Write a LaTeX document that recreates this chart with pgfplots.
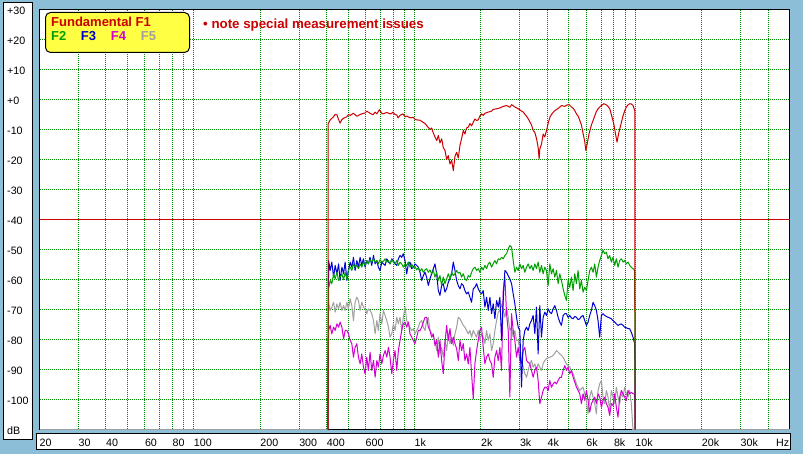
\documentclass[border=0pt]{standalone}
\usepackage{fontspec}
\setmainfont{Liberation Sans}
\usepackage{pgfplots}
\usepackage{pgfplotstable}
\pgfplotsset{compat=1.18}
\definecolor{bgblue}{RGB}{140,190,215}
\definecolor{gridgreen}{RGB}{0,140,0}
\definecolor{cF1}{RGB}{204,0,0}
\definecolor{cF2}{RGB}{0,160,0}
\definecolor{cF3}{RGB}{0,0,210}
\definecolor{cF4}{RGB}{210,0,210}
\definecolor{cF5}{RGB}{160,160,160}
\definecolor{legyellow}{RGB}{255,255,68}

\pgfplotstableread{
f F1
406 -110
406 -8.1
415 -6.8
428 -5.9
437 -5.0
445 -5.1
452 -6.5
460 -7.9
468 -6.8
475 -6.3
493 -5.8
502 -5.0
511 -5.3
529 -4.6
548 -5.6
567 -5.0
577 -4.8
597 -4.5
608 -3.9
629 -4.6
649 -5.1
663 -4.2
675 -4.8
693 -3.4
711 -4.6
721 -4.8
749 -4.3
775 -4.8
789 -4.6
799 -4.2
816 -5.0
831 -5.2
842 -6.1
860 -5.3
875 -5.0
887 -4.8
906 -5.8
922 -5.5
954 -6.1
988 -6.0
1005 -6.6
1023 -6.8
1059 -6.9
1093 -7.6
1116 -8.0
1151 -9.2
1175 -10.0
1196 -9.5
1213 -10.9
1238 -12.5
1261 -13.7
1282 -12.0
1304 -14.5
1328 -13.1
1350 -16.0
1375 -17.0
1398 -20.0
1422 -18.7
1448 -21.5
1474 -20.3
1499 -23.7
1525 -19.0
1552 -17.6
1579 -19.5
1607 -15.3
1635 -13.0
1664 -10.3
1692 -11.5
1722 -9.5
1752 -9.2
1783 -8.0
1814 -8.8
1846 -7.6
1878 -6.5
1911 -7.0
1944 -6.8
1979 -5.5
2015 -4.8
2048 -5.3
2084 -4.6
2158 -4.2
2234 -3.9
2273 -3.3
2355 -3.1
2437 -2.8
2524 -2.3
2612 -2.0
2704 -2.6
2754 -1.7
2849 -2.5
2950 -3.1
3001 -3.5
3108 -4.2
3217 -5.6
3274 -6.4
3389 -8.5
3450 -10.3
3509 -11.0
3573 -13.1
3632 -16.0
3670 -19.8
3696 -16.5
3764 -14.8
3827 -11.5
3894 -12.5
3966 -10.3
4031 -8.0
4106 -5.9
4174 -5.0
4247 -4.3
4324 -3.7
4474 -3.0
4638 -2.0
4795 -2.3
4879 -1.9
5018 -1.7
5140 -2.5
5230 -2.9
5327 -3.7
5415 -4.8
5510 -5.5
5610 -7.0
5704 -8.5
5808 -11.4
5906 -14.0
5974 -17.0
6050 -15.0
6180 -11.4
6330 -8.5
6444 -7.0
6554 -5.5
6669 -4.0
6790 -3.1
6904 -2.5
7025 -2.0
7206 -1.4
7401 -1.8
7530 -2.3
7668 -3.1
7796 -5.0
7994 -8.1
8143 -11.5
8272 -14.2
8430 -11.0
8662 -7.6
8803 -5.5
8966 -3.7
9114 -2.5
9274 -1.8
9446 -1.4
9601 -1.5
9776 -2.0
9952 -3.7
9990 -110
}\fundamental

\pgfplotstableread{
f F2 F3 F4 F5
405 -110 -110 -110 -110
408 -63.1 -53.7 -77.0 -67.6
415 -60.3 -57.0 -75.3 -70.3
422 -61.4 -54.2 -78.1 -69.2
430 -58.1 -59.2 -75.9 -67.6
437 -59.8 -55.3 -77.0 -70.9
445 -57.6 -58.1 -74.8 -68.1
453 -60.3 -54.8 -75.9 -69.8
460 -59.2 -60.3 -74.2 -67.6
469 -58.1 -55.9 -75.9 -70.3
477 -60.1 -58.1 -79.8 -68.7
485 -57.6 -54.2 -77.0 -70.3
494 -59.8 -60.3 -77.0 -67.6
502 -56.8 -57.0 -78.1 -69.8
511 -55.9 -54.2 -80.3 -66.4
520 -57.0 -55.9 -81.4 -68.7
529 -54.8 -52.6 -85.9 -73.7
538 -55.9 -57.0 -82.6 -67.6
548 -55.3 -53.7 -81.4 -65.9
557 -56.4 -55.9 -85.9 -67.0
567 -54.8 -52.6 -88.1 -70.3
577 -55.9 -55.3 -84.8 -67.6
587 -54.2 -53.1 -89.2 -69.2
597 -55.3 -55.9 -91.4 -69.8
608 -53.7 -53.7 -85.9 -71.4
618 -54.8 -54.8 -90.3 -69.8
629 -53.4 -52.6 -84.2 -70.3
640 -54.2 -55.3 -90.3 -71.4
652 -53.1 -52.0 -87.0 -73.7
663 -54.2 -54.8 -92.6 -78.1
675 -53.7 -53.7 -87.0 -73.7
686 -54.8 -55.9 -89.2 -77.0
698 -53.4 -57.0 -84.8 -71.4
711 -54.2 -54.2 -88.1 -74.8
723 -53.9 -54.8 -85.3 -70.3
736 -53.1 -55.3 -83.7 -72.0
749 -54.2 -53.1 -85.9 -73.7
762 -53.7 -54.2 -82.6 -75.9
775 -54.8 -54.8 -85.9 -79.2
789 -53.4 -53.1 -91.4 -78.1
802 -54.2 -53.7 -87.0 -74.8
816 -54.8 -54.8 -83.7 -77.0
831 -53.7 -55.3 -90.3 -72.6
845 -55.3 -53.1 -83.7 -74.8
860 -54.2 -52.0 -80.3 -72.6
875 -54.8 -52.6 -77.0 -77.0
890 -55.9 -51.4 -74.8 -72.6
906 -54.8 -53.7 -74.2 -69.2
922 -55.3 -58.1 -75.9 -73.7
938 -54.2 -54.8 -74.2 -74.8
954 -55.9 -54.2 -78.1 -75.9
971 -54.8 -56.4 -79.2 -77.0
988 -56.1 -55.9 -80.3 -76.4
1005 -55.7 -54.8 -81.4 -78.1
1023 -56.8 -55.3 -79.2 -77.0
1041 -56.1 -55.9 -77.0 -75.9
1059 -57.2 -57.6 -77.0 -74.2
1078 -56.4 -60.3 -75.9 -73.7
1097 -57.6 -58.7 -74.2 -75.9
1116 -56.8 -57.6 -72.6 -77.0
1135 -56.4 -59.2 -72.6 -73.7
1155 -57.6 -62.0 -75.9 -72.6
1175 -56.8 -59.8 -77.0 -77.0
1196 -58.1 -58.1 -79.2 -78.1
1217 -57.0 -56.4 -78.1 -79.2
1238 -59.2 -54.8 -82.0 -80.3
1260 -57.6 -58.1 -80.3 -83.7
1282 -60.3 -63.7 -85.9 -79.2
1304 -58.7 -65.3 -80.3 -84.8
1327 -62.0 -62.0 -87.0 -82.6
1350 -59.2 -61.4 -91.4 -85.9
1374 -61.4 -64.2 -81.4 -80.3
1398 -59.8 -63.1 -75.3 -83.7
1423 -58.1 -60.9 -80.3 -78.1
1448 -59.8 -59.8 -76.4 -81.4
1473 -57.6 -58.1 -81.4 -79.2
1499 -58.7 -54.2 -79.2 -82.0
1525 -58.1 -57.0 -81.4 -78.1
1552 -57.0 -60.3 -83.1 -75.9
1579 -57.9 -62.0 -87.0 -72.6
1607 -57.6 -63.1 -80.3 -73.1
1635 -59.2 -61.4 -83.7 -74.2
1663 -58.1 -62.0 -81.4 -75.3
1692 -59.8 -63.7 -87.0 -75.9
1722 -60.3 -64.8 -84.8 -77.0
1752 -58.7 -64.2 -88.1 -78.1
1783 -59.2 -65.9 -82.6 -77.0
1814 -57.6 -67.6 -91.4 -79.2
1846 -56.4 -63.1 -99.8 -77.0
1878 -55.9 -62.6 -88.1 -78.1
1911 -57.0 -61.4 -83.7 -79.2
1944 -56.4 -63.1 -80.3 -77.0
1979 -57.6 -64.2 -77.0 -80.3
2013 -55.9 -64.8 -75.9 -78.1
2048 -56.8 -63.7 -82.6 -79.2
2084 -55.3 -69.2 -88.1 -81.4
2121 -56.4 -65.9 -85.9 -77.0
2158 -54.8 -70.3 -84.8 -80.3
2196 -54.2 -65.9 -87.0 -78.1
2234 -55.9 -71.4 -88.1 -83.7
2273 -54.8 -68.1 -92.6 -81.4
2313 -53.7 -73.1 -85.9 -77.0
2354 -54.8 -67.0 -83.7 -73.7
2395 -53.1 -69.2 -87.0 -70.9
2437 -53.4 -65.9 -82.6 -70.3
2479 -52.6 -80.3 -90.3 -68.1
2523 -53.1 -67.0 -63.7 -70.3
2567 -52.0 -57.0 -59.2 -72.6
2612 -51.4 -57.6 -71.4 -69.2
2658 -49.8 -58.7 -77.0 -72.6
2704 -48.7 -59.8 -99.2 -77.0
2752 -49.2 -61.4 -71.4 -75.9
2800 -53.7 -64.8 -77.0 -79.2
2849 -57.6 -68.1 -80.3 -77.0
2899 -55.9 -72.6 -85.9 -80.3
2949 -57.0 -75.9 -82.6 -80.3
3001 -54.8 -77.0 -87.0 -83.7
3054 -56.4 -95.9 -88.1 -87.0
3107 -55.3 -80.3 -83.7 -89.2
3162 -57.6 -77.0 -82.6 -91.4
3217 -55.9 -75.9 -87.0 -92.6
3273 -54.8 -77.0 -87.6 -90.3
3331 -56.4 -74.8 -88.1 -88.1
3389 -55.3 -73.7 -90.3 -87.0
3448 -57.0 -72.0 -92.6 -89.2
3509 -54.8 -78.1 -90.3 -88.1
3570 -56.4 -69.2 -89.2 -90.3
3632 -54.2 -84.8 -93.7 -88.1
3696 -57.6 -68.7 -101.4 -89.2
3761 -55.3 -79.2 -99.2 -90.3
3827 -58.1 -72.6 -97.0 -88.1
3894 -55.9 -70.9 -95.9 -87.0
3962 -57.0 -72.0 -95.9 -86.4
4031 -62.0 -69.8 -97.0 -86.1
4102 -54.8 -70.9 -93.7 -85.9
4174 -58.1 -71.4 -95.9 -85.7
4247 -56.4 -69.8 -94.8 -85.3
4321 -59.2 -68.7 -94.2 -84.6
4397 -57.0 -70.3 -94.8 -83.7
4474 -61.4 -72.6 -93.7 -84.2
4552 -58.1 -74.2 -92.6 -84.8
4632 -60.3 -75.3 -92.6 -85.3
4713 -63.1 -72.0 -90.3 -85.9
4795 -65.3 -71.4 -88.7 -87.0
4879 -67.0 -71.4 -90.3 -88.1
4965 -60.3 -72.6 -89.2 -88.7
5052 -62.6 -72.0 -91.4 -89.2
5140 -59.2 -72.8 -90.3 -90.3
5230 -63.7 -73.1 -92.6 -91.4
5322 -58.1 -72.3 -94.2 -93.1
5415 -61.4 -72.6 -95.9 -94.8
5510 -57.0 -73.4 -97.0 -95.9
5606 -63.1 -73.1 -98.1 -97.0
5704 -60.3 -72.3 -101.4 -96.4
5804 -64.2 -72.0 -98.1 -95.9
5906 -62.6 -73.7 -100.3 -98.1
6009 -63.7 -75.3 -97.0 -100.3
6114 -60.3 -74.2 -100.3 -104.8
6221 -57.0 -72.0 -104.2 -99.2
6330 -55.9 -70.3 -101.4 -97.0
6441 -57.6 -67.6 -100.3 -99.2
6554 -54.8 -68.7 -99.2 -101.4
6669 -59.2 -70.3 -101.4 -104.8
6785 -55.9 -73.7 -98.1 -97.0
6904 -53.7 -79.2 -99.2 -94.8
7025 -52.0 -72.0 -102.6 -93.7
7148 -50.3 -71.4 -100.3 -99.2
7273 -51.4 -72.0 -99.2 -101.4
7401 -50.9 -72.3 -101.4 -97.0
7530 -53.1 -72.6 -102.6 -99.2
7662 -52.0 -72.8 -105.3 -103.7
7796 -54.2 -73.1 -101.4 -97.0
7933 -52.6 -73.7 -102.0 -99.2
8072 -55.3 -74.2 -98.1 -101.4
8213 -53.1 -74.8 -102.6 -95.9
8357 -55.9 -75.3 -105.9 -99.2
8503 -53.7 -75.0 -99.2 -101.4
8652 -53.1 -74.8 -97.0 -98.1
8803 -54.2 -75.3 -98.1 -99.2
8957 -53.7 -75.9 -99.2 -95.9
9114 -54.8 -76.1 -100.3 -98.1
9274 -54.2 -76.4 -97.0 -99.2
9436 -55.3 -76.4 -98.1 -97.0
9601 -55.9 -77.6 -97.6 -101.4
9770 -56.4 -79.2 -98.1 -110
9941 -57.0 -81.4 -98.1 -110
9990 -110 -110 -110 -110
}\harmonics

\begin{document}
\begin{tikzpicture}[x=1pt,y=1pt,
  ylab/.style={anchor=base west, inner sep=0pt, font=\fontsize{10.7}{12}\selectfont, xshift=-32.5pt, yshift=-4.8pt},
  xlab/.style={anchor=base west, inner sep=0pt, font=\fontsize{10.7}{12}\selectfont, yshift=-16.8pt}]
\path[use as bounding box] (0,0) rectangle (803,454);
\fill[bgblue] (0,0) rectangle (803,454);
\draw[black, fill=white, line width=1pt] (3.5,14.5) rectangle (32.5,451.5);
\draw[black, fill=white, line width=1pt] (36.5,4.5) rectangle (790.5,20.5);
\begin{axis}[
  at={(39.5pt,24.5pt)}, anchor=south west,
  scale only axis, width=750pt, height=420pt,
  xmode=log, xmin=20, xmax=50000, ymin=-110, ymax=30,
  axis background/.style={fill=white},
  axis line style={black, line width=1pt},
  xtick={20,30,40,50,60,70,80,90,100,200,300,400,500,600,700,800,900,1000,2000,3000,4000,5000,6000,7000,8000,9000,10000,20000,30000,40000},
  ytick={-100,-90,-80,-70,-60,-50,-30,-20,-10,0,10,20},
  minor xtick={}, minor ytick={},
  xticklabels={}, yticklabels={},
  tick style={draw=none},
  grid=major,
  major grid style={gridgreen, line width=1pt, dash pattern=on 1pt off 1pt},
  clip=false,
  every axis plot/.append style={line width=1pt, line join=round, mark=none},
]
\addplot[cF1] coordinates {(20,-40) (50000,-40)};
\addplot[cF5] coordinates {(20,-110) (405,-110)};
\addplot[cF5] coordinates {(9700,-110) (50000,-110)};
\addplot[cF5] table[x=f, y=F5] {\harmonics};
\addplot[cF4] table[x=f, y=F4] {\harmonics};
\addplot[cF3] table[x=f, y=F3] {\harmonics};
\addplot[cF2] table[x=f, y=F2] {\harmonics};
\addplot[cF1] table[x=f, y=F1] {\fundamental};
% y labels
\node[ylab] at (axis cs:20,30) {+30};
\node[ylab] at (axis cs:20,20) {+20};
\node[ylab] at (axis cs:20,10) {+10};
\node[ylab] at (axis cs:20,0) {+0};
\node[ylab] at (axis cs:20,-10) {-10};
\node[ylab] at (axis cs:20,-20) {-20};
\node[ylab] at (axis cs:20,-30) {-30};
\node[ylab] at (axis cs:20,-40) {-40};
\node[ylab] at (axis cs:20,-50) {-50};
\node[ylab] at (axis cs:20,-60) {-60};
\node[ylab] at (axis cs:20,-70) {-70};
\node[ylab] at (axis cs:20,-80) {-80};
\node[ylab] at (axis cs:20,-90) {-90};
\node[ylab] at (axis cs:20,-100) {-100};
% x labels
\node[xlab] at (axis cs:20,-110) {20};
\node[xlab] at (axis cs:30,-110) {30};
\node[xlab] at (axis cs:40,-110) {40};
\node[xlab] at (axis cs:60,-110) {60};
\node[xlab] at (axis cs:80,-110) {80};
\node[xlab] at (axis cs:100,-110) {100};
\node[xlab] at (axis cs:200,-110) {200};
\node[xlab] at (axis cs:300,-110) {300};
\node[xlab] at (axis cs:400,-110) {400};
\node[xlab] at (axis cs:600,-110) {600};
\node[xlab] at (axis cs:1000,-110) {1k};
\node[xlab] at (axis cs:2000,-110) {2k};
\node[xlab] at (axis cs:3000,-110) {3k};
\node[xlab] at (axis cs:4000,-110) {4k};
\node[xlab] at (axis cs:6000,-110) {6k};
\node[xlab] at (axis cs:8000,-110) {8k};
\node[xlab] at (axis cs:10000,-110) {10k};
\node[xlab] at (axis cs:20000,-110) {20k};
\node[xlab] at (axis cs:30000,-110) {30k};
\end{axis}
\node[anchor=base west, inner sep=0pt, font=\fontsize{10.7}{12}\selectfont] at (7,19.2) {dB};
\node[anchor=base west, inner sep=0pt, font=\fontsize{10.7}{12}\selectfont] at (776,7.5) {Hz};
% legend box
\draw[black, fill=legyellow, line width=1pt, rounded corners=5pt] (45.5,401.5) rectangle (189.5,441.5);
\node[anchor=base west, inner sep=0pt, text=cF1, font=\fontsize{13}{15}\selectfont\bfseries] at (51,427.3) {Fundamental F1};
\node[anchor=base west, inner sep=0pt, text=cF2, font=\fontsize{13}{15}\selectfont\bfseries] at (51,413.3) {F2};
\node[anchor=base west, inner sep=0pt, text=cF3, font=\fontsize{13}{15}\selectfont\bfseries] at (80.7,413.3) {F3};
\node[anchor=base west, inner sep=0pt, text=cF4, font=\fontsize{13}{15}\selectfont\bfseries] at (110.7,413.3) {F4};
\node[anchor=base west, inner sep=0pt, text=cF5, font=\fontsize{13}{15}\selectfont\bfseries] at (140.7,413.3) {F5};
\node[anchor=base west, inner sep=0pt, text=cF1, font=\fontsize{13.3}{15}\selectfont\bfseries] at (203,425.3) {\textbullet\ note special measurement issues};
\end{tikzpicture}
\end{document}
